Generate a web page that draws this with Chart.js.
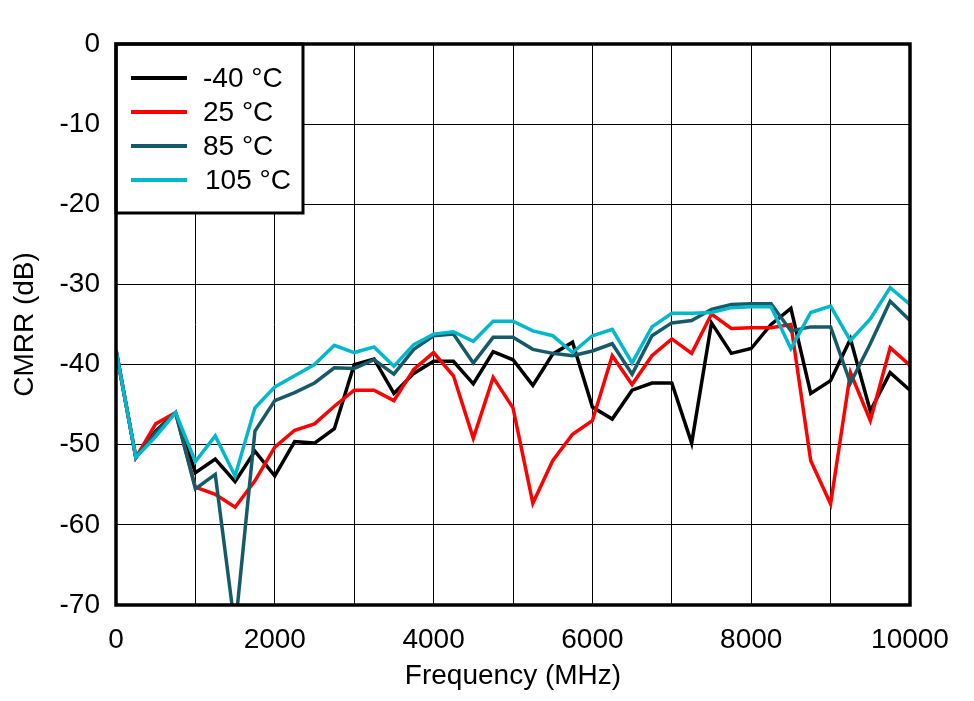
<!DOCTYPE html>
<html>
<head>
<meta charset="utf-8">
<script src="https://cdn.jsdelivr.net/npm/chart.js@4.4.1/dist/chart.umd.min.js"></script>
<style>
  html, body { margin: 0; padding: 0; background: #ffffff; }
  #wrap { width: 974px; height: 701px; position: relative; }
</style>
</head>
<body>
<div id="wrap"><canvas id="c" width="974" height="701"></canvas></div>
<script>
const frequencyMHz = [0,250,500,750,1000,1250,1500,1750,2000,2250,2500,2750,3000,3250,3500,3750,4000,4250,4500,4750,5000,5250,5500,5750,6000,6250,6500,6750,7000,7250,7500,7750,8000,8250,8500,8750,9000,9250,9500,9750,10000];

const cmrrMinus40C = [-38.2,-51.6,-48.3,-46.0,-53.5,-51.8,-54.6,-50.8,-53.9,-49.6,-49.8,-48.0,-40.0,-39.3,-43.6,-41.1,-39.6,-39.6,-42.4,-38.4,-39.4,-42.6,-38.7,-37.2,-45.3,-46.8,-43.2,-42.3,-42.3,-49.8,-34.8,-38.6,-38.0,-35.0,-33.0,-43.6,-42.0,-36.8,-45.8,-41.0,-43.2];
const cmrr25C = [-38.2,-51.6,-47.4,-46.0,-55.3,-56.2,-57.8,-54.5,-50.3,-48.2,-47.4,-45.2,-43.2,-43.2,-44.5,-40.6,-38.5,-41.4,-49.2,-41.6,-45.4,-57.3,-52.0,-48.7,-47.0,-38.9,-42.5,-38.9,-36.8,-38.6,-33.7,-35.5,-35.4,-35.4,-35.0,-52.0,-57.4,-41.0,-47.0,-37.9,-40.1];
const cmrr85C = [-38.2,-51.6,-48.5,-46.0,-55.5,-53.7,-73.0,-48.3,-44.5,-43.5,-42.3,-40.4,-40.5,-39.4,-41.2,-38.1,-36.4,-36.2,-39.8,-36.6,-36.6,-38.1,-38.6,-38.9,-38.3,-37.4,-41.2,-36.4,-34.8,-34.5,-33.1,-32.5,-32.4,-32.4,-35.8,-35.3,-35.3,-42.3,-37.4,-32.1,-34.5];
const cmrr105C = [-38.2,-51.6,-49.0,-46.0,-52.1,-48.9,-53.9,-45.4,-42.8,-41.4,-40.0,-37.6,-38.5,-37.8,-40.2,-37.5,-36.2,-35.9,-37.1,-34.6,-34.6,-35.8,-36.4,-38.5,-36.4,-35.6,-39.8,-35.3,-33.6,-33.6,-33.5,-32.9,-32.8,-32.8,-38.0,-33.5,-32.7,-37.0,-34.3,-30.4,-32.5];

const seriesLabels = ['-40 °C', '25 °C', '85 °C', '105 °C'];
const seriesColors = ['#000000', '#ff0000', '#155a68', '#00b8cc'];
const xTickLabels = ['0', '2000', '4000', '6000', '8000', '10000'];
const yTicks = [0, -10, -20, -30, -40, -50, -60, -70];

const FONT = '"Liberation Sans", Arial, Helvetica, sans-serif';

function toXY(ys) { return frequencyMHz.map((f, i) => ({ x: f, y: ys[i] })); }
const allSeries = [cmrrMinus40C, cmrr25C, cmrr85C, cmrr105C];

const frameAndLegend = {
  id: 'frameAndLegend',
  afterDatasetsDraw(chart) {
    const { ctx, chartArea: a } = chart;
    ctx.save();
    const lx = a.left, ly = a.top, lw = 187, lh = 169;
    ctx.fillStyle = '#ffffff';
    ctx.fillRect(lx, ly, lw, lh);
    ctx.lineWidth = 3;
    ctx.strokeStyle = '#000000';
    ctx.strokeRect(lx, ly, lw, lh);
    const rows = [78, 112, 146, 180];
    ctx.font = '28px ' + FONT;
    ctx.textBaseline = 'middle';
    ctx.textAlign = 'left';
    seriesLabels.forEach((lab, i) => {
      ctx.strokeStyle = seriesColors[i];
      ctx.lineWidth = 4;
      ctx.beginPath();
      ctx.moveTo(131, rows[i]);
      ctx.lineTo(187, rows[i]);
      ctx.stroke();
      ctx.fillStyle = '#000000';
      ctx.fillText(lab, i === 3 ? 205 : 203, rows[i] + 1);
    });
    ctx.lineWidth = 3.5;
    ctx.strokeStyle = '#000000';
    ctx.strokeRect(a.left, a.top, a.right - a.left, a.bottom - a.top);
    ctx.restore();
  }
};

new Chart(document.getElementById('c'), {
  type: 'line',
  data: {
    datasets: allSeries.map((ys, i) => ({
      label: seriesLabels[i],
      data: toXY(ys),
      borderColor: seriesColors[i],
      backgroundColor: seriesColors[i],
      borderWidth: 3.5,
      pointRadius: 0,
      tension: 0,
      order: 4 - i
    }))
  },
  options: {
    responsive: false,
    animation: false,
    devicePixelRatio: 1,
    layout: { padding: { top: 44, right: 64, bottom: 0, left: 0 } },
    plugins: { legend: { display: false }, tooltip: { enabled: false } },
    scales: {
      x: {
        type: 'linear',
        min: 0, max: 10000,
        afterFit(s) { s.height = 96; },
        afterBuildTicks(s) {
          s.ticks = frequencyMHz.filter(f => f % 1000 === 0).map(v => ({ value: v }));
        },
        ticks: {
          autoSkip: false,
          maxRotation: 0,
          padding: 18,
          color: '#000000',
          font: { family: FONT, size: 28 },
          callback(v) { const s = String(v); return xTickLabels.includes(s) ? s : ''; }
        },
        grid: { color: '#000000', lineWidth: 1, drawTicks: false },
        border: { display: false },
        title: { display: true, text: 'Frequency (MHz)', color: '#000000',
                 font: { family: FONT, size: 28 }, padding: { top: 0, bottom: 8 } }
      },
      y: {
        min: -70, max: 0,
        afterFit(s) { s.width = 116; },
        afterBuildTicks(s) { s.ticks = yTicks.map(v => ({ value: v })); },
        ticks: {
          padding: 16,
          color: '#000000',
          font: { family: FONT, size: 28 }
        },
        grid: { color: '#000000', lineWidth: 1, drawTicks: false },
        border: { display: false },
        title: { display: true, text: 'CMRR (dB)', color: '#000000',
                 font: { family: FONT, size: 28 }, padding: { top: 8, bottom: 0 } }
      }
    }
  },
  plugins: [frameAndLegend]
});
</script>
</body>
</html>
